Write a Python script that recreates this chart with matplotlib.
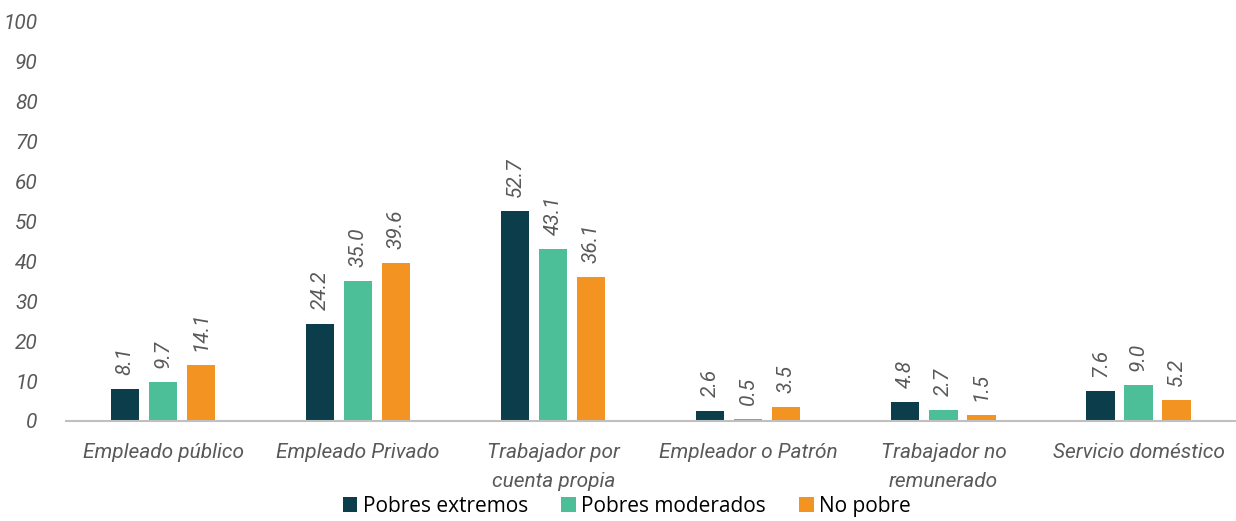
import numpy as np
import matplotlib.pyplot as plt

categorias = ['Empleado público', 'Empleado Privado', 'Trabajador por\ncuenta propia',
              'Empleador o Patrón', 'Trabajador no\nremunerado', 'Servicio doméstico']
pobres_extremos = [8.1, 24.2, 52.7, 2.6, 4.8, 7.6]
pobres_moderados = [9.7, 35.0, 43.1, 0.5, 2.7, 9.0]
no_pobre = [14.1, 39.6, 36.1, 3.5, 1.5, 5.2]

series = [('Pobres extremos', pobres_extremos, '#0B3D4B'),
          ('Pobres moderados', pobres_moderados, '#4DBF98'),
          ('No pobre', no_pobre, '#F39322')]

plt.rcParams['font.family'] = ['Roboto', 'DejaVu Sans']

fig = plt.figure(figsize=(12.36, 5.21), dpi=100)
ax = fig.add_axes([0.053, 0.192, 0.947, 0.766])

x = np.arange(len(categorias))
w = 0.145
off = 0.195
gray = '#595959'
for i, (nombre, vals, col) in enumerate(series):
    pos = x + (i - 1) * off
    ax.bar(pos, vals, width=w, color=col, label=nombre, zorder=2)
    for p, v in zip(pos, vals):
        ax.text(p, v + 3.5, f'{v:.1f}', rotation=90, ha='center', va='bottom',
                fontsize=15, style='italic', color=gray)

ax.set_xlim(-0.5, len(categorias) - 0.5)
ax.set_ylim(0, 100)
ax.set_yticks(range(0, 101, 10))
ax.set_xticks(x)
ax.set_xticklabels(categorias, style='italic', fontsize=15, color=gray, linespacing=1.65)
for t in ax.get_yticklabels():
    t.set_style('italic')
    t.set_fontsize(15)
    t.set_color(gray)
ax.tick_params(axis='both', length=0)
ax.tick_params(axis='x', pad=16)
ax.tick_params(axis='y', pad=20)
for s in ['top', 'right', 'left']:
    ax.spines[s].set_visible(False)
ax.spines['bottom'].set_color('#BFBFBF')
ax.spines['bottom'].set_linewidth(1.5)

leg = fig.legend(loc='lower center', bbox_to_anchor=(0.507, -0.028), ncol=3, frameon=False,
                 prop={'family': 'Open Sans', 'size': 15}, handlelength=0.7, handleheight=0.7,
                 handletextpad=0.25, columnspacing=1.6)

fig.savefig('out.png', dpi=100)
